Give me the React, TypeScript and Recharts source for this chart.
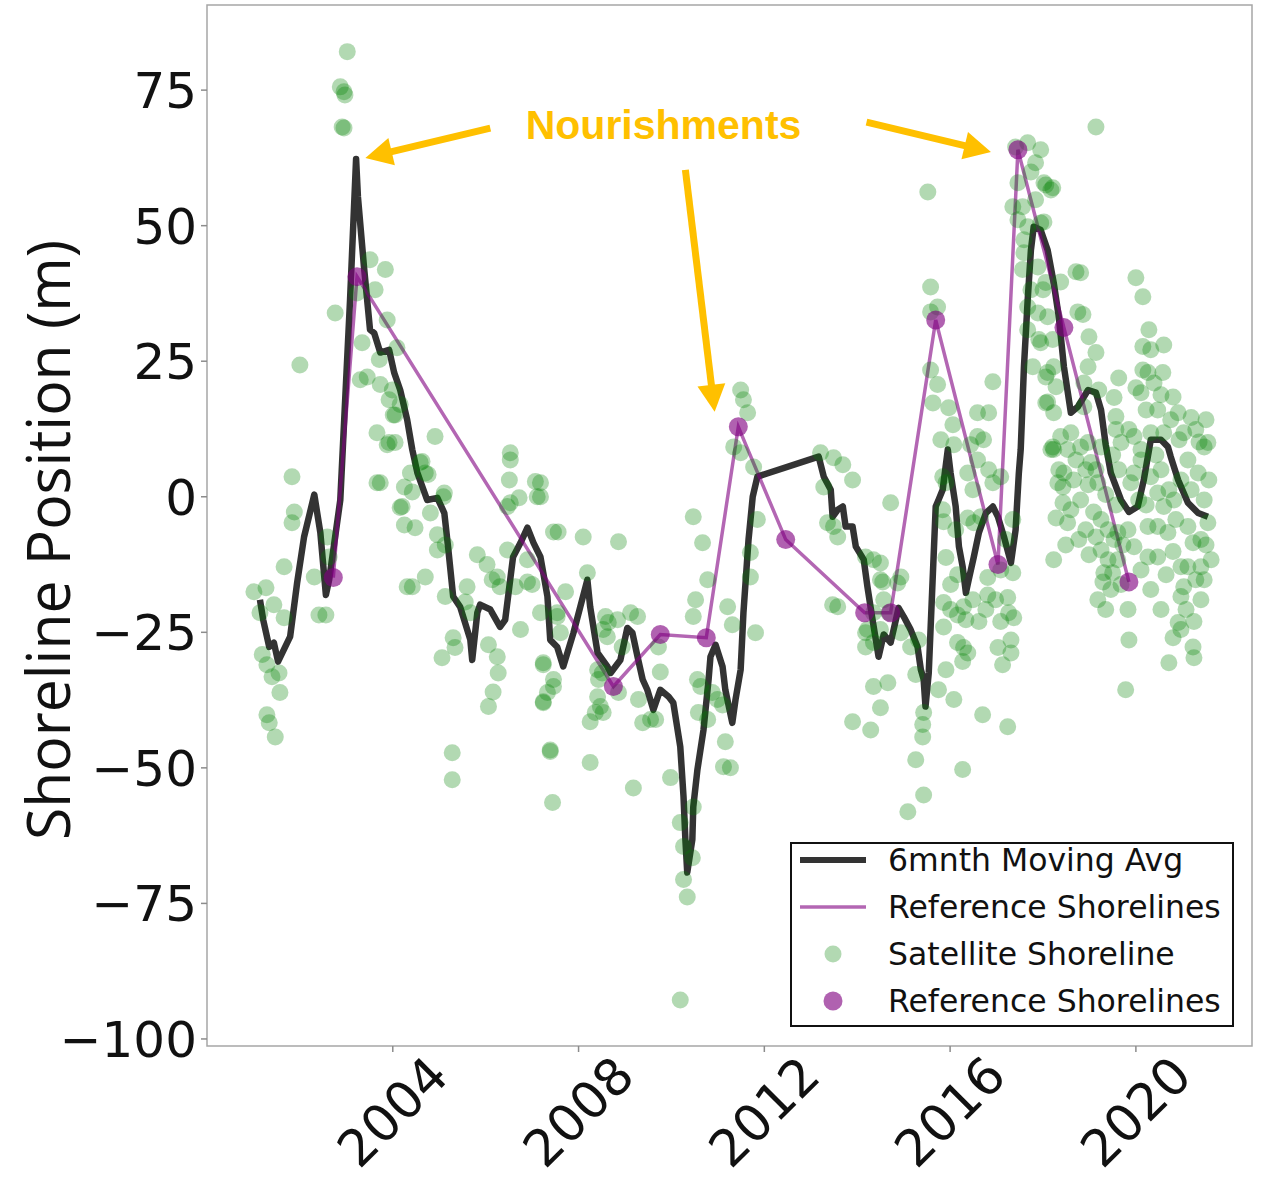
import React from 'react';
import {
  ComposedChart,
  XAxis,
  YAxis,
  Scatter,
  Line,
  Label,
  ReferenceArea,
  ReferenceLine,
  ReferenceDot,
} from 'recharts';

type Pt = [number, number];

// satellite shoreline positions: [decimal year, metres]
const satellite2001to2004: Pt[] = [
  [2001.83, 3.7], [2001.88, -2.8], [2001.83, -4.8], [2001.66, -12.9], [2001.01, -17.5], [2001.27, -16.8],
  [2001.44, -19.9], [2001.14, -21.4], [2001.66, -22.3], [2001.19, -29.1], [2001.29, -31.0], [2001.4, -33.2],
  [2001.55, -32.5], [2001.57, -36.1], [2001.29, -40.2], [2001.34, -41.7], [2001.47, -44.3], [2002.31, -14.8],
  [2002.41, -21.8], [2002.56, -21.8], [2002.59, -7.4], [2002.63, -11.1], [2002.0, 24.3], [2003.66, 2.6],
  [2004.25, 1.8], [2004.16, -2.0], [2004.25, -5.2], [2004.31, -16.6], [2003.88, 9.6],
  [2003.02, 82.1], [2002.87, 75.6], [2002.95, 74.7], [2002.97, 74.1], [2002.95, 68.0], [2002.91, 68.2],
  [2003.51, 43.7], [2003.84, 41.9], [2003.62, 38.2], [2003.23, 37.6], [2002.76, 33.9], [2003.88, 32.6],
  [2003.34, 28.4], [2003.71, 25.3], [2004.09, 27.5], [2003.3, 21.6], [2003.45, 22.1], [2003.73, 20.7],
  [2003.99, 19.7], [2003.92, 17.9], [2004.16, 17.0], [2004.05, 15.1], [2003.66, 11.8], [2003.92, 10.0],
  [2004.91, 11.1], [2004.38, 4.4], [2004.59, 6.3], [2004.7, 4.4], [2004.01, 15.1], [2004.05, 10.0],
  [2003.73, 2.6], [2004.63, 6.5], [2004.76, 4.1], [2004.42, 0.9], [2004.2, -1.8], [2004.81, -3.0],
  [2004.48, -5.7], [2004.96, -7.0], [2004.96, -9.8], [2004.42, -16.6], [2004.7, -14.8],
];

const satellite2005to2008: Pt[] = [
  [2005.11, 0.7], [2006.53, 8.1], [2006.53, 6.8], [2006.51, 3.1], [2007.07, 2.8], [2006.72, -0.2],
  [2007.11, 0.0], [2006.47, -1.8], [2005.09, 0.0], [2005.13, -8.9], [2005.13, -18.4], [2005.6, -16.6],
  [2005.82, -10.7], [2006.03, -12.5], [2006.25, -14.8], [2006.14, -15.3], [2006.31, -16.6], [2006.47, -9.8],
  [2006.53, -1.1], [2007.46, -6.5], [2006.9, -11.6], [2006.9, -15.7], [2007.0, -16.2], [2006.64, -16.6],
  [2005.67, -21.4], [2005.56, -19.4], [2005.3, -26.0], [2005.34, -27.8], [2005.06, -29.7], [2006.06, -27.3],
  [2006.25, -29.5], [2006.27, -32.5], [2006.16, -36.0], [2006.06, -38.7], [2006.75, -24.5], [2007.24, -31.0],
  [2007.33, -36.1], [2007.24, -37.8], [2007.46, -35.0], [2007.54, -21.4], [2005.28, -47.2], [2005.28, -52.2],
  [2007.39, -47.0], [2007.44, -56.4], [2007.18, 2.6], [2007.18, 0.0], [2007.56, -6.5], [2008.1, -7.4],
  [2008.86, -8.3], [2008.19, -14.0], [2007.72, -17.5], [2007.18, -21.4], [2007.54, -22.1], [2007.61, -25.1],
  [2007.24, -30.6], [2007.46, -33.7], [2007.24, -38.0], [2008.41, -31.9], [2008.51, -32.5], [2008.58, -22.1],
  [2008.64, -23.2], [2008.84, -22.7], [2008.62, -25.8], [2008.53, -24.5], [2008.94, -27.7], [2008.43, -33.7],
  [2008.41, -36.9], [2008.47, -38.7], [2008.36, -39.8], [2008.53, -39.8], [2008.25, -41.5], [2008.86, -36.1],
  [2007.39, -46.7], [2008.25, -49.0],
];

const satellite2009to2012: Pt[] = [
  [2009.12, -21.4], [2009.27, -22.1], [2009.29, -37.4], [2009.72, -27.7], [2009.76, -32.3], [2009.55, -41.1],
  [2009.66, -41.1], [2009.38, -41.7], [2009.18, -53.7], [2010.47, -3.7], [2010.67, -8.5], [2010.78, -15.3],
  [2010.52, -19.0], [2010.47, -22.1], [2011.21, -20.3], [2011.31, -23.6], [2011.81, -25.1], [2010.56, -33.7],
  [2010.63, -35.0], [2010.88, -36.1], [2010.99, -37.4], [2011.1, -38.4], [2010.58, -39.8], [2010.78, -41.1],
  [2011.16, -45.2], [2011.12, -49.8], [2011.27, -50.0], [2009.98, -51.8], [2010.19, -60.1], [2010.47, -57.2],
  [2010.26, -64.5], [2010.26, -70.6], [2010.34, -73.8], [2010.45, -66.6], [2010.19, -92.8], [2011.49, 19.7],
  [2011.55, 17.9], [2011.64, 15.5], [2011.34, 9.2], [2011.49, 8.1], [2011.77, 5.5], [2011.85, -4.2],
  [2011.7, -10.3], [2011.7, -14.8],
];

const satellite2013to2016: Pt[] = [
  [2013.21, 8.1], [2013.49, 7.2], [2013.69, 5.9], [2013.9, 3.1], [2013.28, 1.8], [2013.36, -4.8],
  [2013.49, -5.5], [2013.58, -7.4], [2014.72, -1.1], [2014.35, -11.6], [2014.5, -15.3], [2014.35, -21.4],
  [2013.58, -20.3], [2013.47, -19.9], [2014.68, -21.4], [2014.18, -25.1], [2014.35, -26.9], [2014.35, -35.0],
  [2014.66, -34.3], [2014.5, -38.9], [2013.9, -41.5], [2014.29, -43.0], [2014.18, -11.1], [2014.5, -12.2],
  [2014.55, -15.7], [2014.57, -19.0], [2014.94, -14.8], [2014.87, -15.9], [2014.22, -24.5], [2014.5, -24.5],
  [2014.18, -27.7], [2014.94, -25.1], [2015.15, -27.7], [2015.32, -26.4], [2015.26, -32.8], [2015.43, -39.8],
  [2015.41, -42.0], [2015.41, -44.3], [2015.26, -48.5], [2015.43, -55.0], [2015.09, -58.1], [2015.75, -35.6],
  [2015.91, -31.9], [2016.08, -37.4], [2015.8, 10.5], [2016.08, 9.6], [2015.84, 3.7], [2015.91, 2.6],
  [2015.84, -2.4], [2015.86, -4.6], [2015.91, -11.2], [2016.16, -14.4], [2015.86, -19.5], [2016.01, -20.8],
  [2016.16, -21.8], [2015.86, -24.0], [2016.29, -20.3], [2016.16, -26.9], [2016.29, -27.8], [2016.38, -28.8],
  [2016.27, -30.4], [2016.44, 9.6], [2016.38, 4.4], [2016.49, 1.3], [2016.59, 6.8], [2016.72, 10.5],
  [2016.83, 5.0], [2016.92, 2.6], [2016.38, -3.9], [2016.51, -4.8], [2016.66, -3.7], [2016.81, -14.9],
  [2016.81, -18.1], [2016.77, -20.8], [2016.62, -23.0], [2016.7, -40.2], [2016.27, -50.3], [2015.52, 56.2],
  [2015.58, 38.7], [2015.73, 35.0], [2015.58, 34.1], [2015.58, 23.4], [2015.73, 20.7], [2015.63, 17.3],
  [2015.97, 16.4], [2016.06, 13.3], [2016.92, 21.2], [2016.59, 15.5], [2016.83, 15.5], [2016.59, 11.1],
  [2016.01, -16.2], [2016.34, -22.7], [2016.49, -19.0], [2016.12, -6.1],
];

const satellite2017to2018: Pt[] = [
  [2017.09, 3.7], [2017.09, -23.0], [2017.24, -18.6], [2017.26, -21.4], [2017.37, -22.3], [2017.03, -27.8],
  [2017.31, -28.8], [2017.13, -31.0], [2017.35, -14.0], [2017.24, -42.4], [2018.23, 8.7], [2018.32, 2.6],
  [2018.28, -3.9], [2018.23, -11.6], [2017.41, 64.5], [2017.67, 65.3], [2017.95, 64.0], [2017.84, 61.6],
  [2017.46, 57.9], [2017.74, 59.9], [2018.02, 57.9], [2018.17, 56.6], [2017.35, 53.5], [2017.56, 53.5],
  [2017.84, 54.8], [2017.46, 51.1], [2017.67, 49.8], [2017.95, 50.5], [2017.59, 47.4], [2017.59, 45.0],
  [2017.56, 41.9], [2017.89, 42.4], [2017.74, 38.2], [2018.0, 38.2], [2017.67, 35.0], [2017.89, 33.9],
  [2018.1, 33.2], [2017.67, 30.8], [2017.91, 29.0], [2018.21, 29.0], [2017.78, 24.0], [2018.06, 22.1],
  [2018.23, 24.0], [2018.06, 17.3], [2018.23, 15.5], [2018.21, 9.2], [2018.06, 57.5], [2018.21, 57.0],
  [2018.02, 50.7], [2018.81, 41.3], [2018.71, 41.5], [2018.06, 39.5], [2018.38, 39.6], [2018.86, 33.6],
  [2018.75, 34.1], [2018.99, 29.5], [2017.95, 28.4], [2018.1, 22.9], [2018.97, 24.0], [2018.88, 21.0],
  [2018.28, 20.3], [2018.1, 17.5], [2018.88, 16.6], [2018.38, 11.1], [2018.6, 11.8], [2018.81, 9.2],
  [2018.17, 8.7], [2018.53, 8.7], [2018.97, 10.0], [2018.45, 4.4], [2018.66, 3.1], [2018.43, 1.8],
  [2018.97, 2.2], [2018.43, -1.1], [2018.53, -4.8], [2018.92, -6.1], [2017.09, -13.5], [2017.2, -7.9],
  [2017.35, -4.2], [2016.98, -19.0], [2017.31, -26.4], [2018.34, 5.0], [2018.71, 6.8], [2018.81, -0.6],
  [2018.6, -2.4], [2018.77, -7.9], [2018.99, -10.7], [2018.49, -8.9], [2018.92, 5.0],
];

const satellite2019to2021: Pt[] = [
  [2019.14, 68.2], [2020.0, 40.4], [2020.15, 36.9], [2020.28, 30.8], [2020.15, 27.7], [2020.6, 28.0],
  [2019.14, 26.6], [2019.63, 21.9], [2020.15, 23.4], [2020.26, 22.9], [2020.58, 22.9], [2020.0, 20.1],
  [2020.39, 21.0], [2019.2, 19.7], [2019.53, 18.3], [2020.11, 19.2], [2019.57, 14.8], [2020.8, 18.4],
  [2020.47, 16.0], [2020.91, 15.5], [2021.19, 14.6], [2021.03, 11.8], [2021.36, 10.1], [2021.55, 10.0],
  [2019.57, 12.4], [2019.68, 10.0], [2019.96, 11.1], [2020.11, 8.7], [2020.32, 11.8], [2020.6, 11.8],
  [2019.25, 9.2], [2019.03, 6.3], [2019.18, 2.6], [2019.09, -2.8], [2019.25, -4.2], [2019.14, -7.4],
  [2019.4, -6.1], [2019.25, -9.8], [2019.53, -7.9], [2019.4, -11.6], [2019.61, -11.6], [2019.31, -14.0],
  [2019.5, -14.0], [2019.29, -15.7], [2019.83, -20.8], [2019.85, -26.4], [2019.78, -35.6], [2019.61, -6.6],
  [2019.83, -6.1], [2019.96, -9.2], [2019.89, 2.6], [2019.96, 4.4], [2020.11, 6.8], [2020.32, 3.7],
  [2020.47, 0.7], [2020.26, -5.5], [2020.47, -5.5], [2020.69, -6.6], [2020.26, -11.1], [2020.47, -11.1],
  [2020.8, -10.1], [2020.6, -1.8], [2020.82, -0.6], [2020.97, 3.1], [2021.12, 6.8], [2021.47, 9.2],
  [2021.34, 4.4], [2021.47, -0.6], [2021.55, -4.8], [2021.4, -7.9], [2021.12, -5.5], [2021.23, -8.5],
  [2020.97, -12.9], [2021.4, -12.9], [2021.47, -15.3], [2021.12, -12.9], [2020.97, -18.4], [2021.03, -16.6],
  [2020.91, -23.2], [2021.25, -23.0], [2020.8, -26.0], [2021.23, -27.7], [2021.25, -29.7], [2020.71, -30.6],
  [2019.14, 5.0], [2019.35, 0.4], [2019.57, -1.5], [2019.46, -17.1], [2019.68, -16.2], [2019.18, -19.0],
  [2019.35, -20.8], [2019.63, 5.0], [2019.5, 7.7], [2019.72, -8.9], [2020.06, -0.6], [2020.22, -1.5],
  [2020.54, 5.0], [2020.71, 1.3], [2020.86, -4.2], [2021.19, 1.3], [2021.29, -15.3], [2020.65, -14.4],
  [2020.32, -17.1], [2020.11, -13.5], [2021.08, -20.8], [2021.4, -19.0], [2021.62, -11.6], [2021.57, 3.1],
  [2020.93, 10.5], [2021.29, 12.4], [2020.43, 7.7], [2020.75, 14.2], [2021.51, 14.2], [2020.32, 27.1],
  [2020.54, 18.8], [2019.85, 12.4], [2020.22, 16.0], [2020.97, -24.5], [2020.54, -20.8], [2021.51, -8.9],
];

// 6 month moving average
const movingAvgEarly: Pt[] = [
  [2001.14, -19.0], [2001.21, -22.7], [2001.34, -27.7], [2001.44, -26.9], [2001.53, -30.4], [2001.79, -25.8],
  [2001.94, -15.9], [2002.09, -7.4], [2002.31, 0.4], [2002.44, -6.6], [2002.56, -18.1], [2002.63, -15.3],
  [2002.87, -0.6], [2003.08, 36.3], [2003.21, 62.3], [2003.25, 55.3], [2003.38, 42.4], [2003.51, 30.8],
  [2003.6, 30.2], [2003.73, 26.6], [2003.92, 27.1], [2004.03, 22.9], [2004.16, 19.7], [2004.31, 14.2],
  [2004.42, 8.7], [2004.53, 4.4], [2004.74, -0.6], [2004.96, -0.2], [2005.11, -3.0], [2005.19, -9.2],
  [2005.3, -18.4], [2005.45, -20.3], [2005.67, -26.4], [2005.71, -30.1], [2005.82, -21.4], [2005.88, -19.9],
  [2006.1, -20.8], [2006.31, -24.0], [2006.42, -22.7], [2006.59, -11.1], [2006.75, -8.5], [2006.9, -5.7],
  [2007.03, -8.5], [2007.18, -11.1], [2007.33, -18.4], [2007.39, -26.4], [2007.54, -27.7], [2007.67, -31.3],
  [2007.89, -25.1], [2008.19, -15.3], [2008.25, -20.3], [2008.41, -28.8], [2008.62, -31.3], [2008.69, -32.5],
  [2008.9, -30.1],
];

const movingAvgMid: Pt[] = [
  [2009.05, -24.2], [2009.16, -25.1], [2009.27, -29.5], [2009.38, -33.7], [2009.48, -35.6], [2009.61, -39.3],
  [2009.76, -35.6], [2009.94, -36.9], [2010.04, -38.0], [2010.19, -46.1], [2010.26, -55.3], [2010.3, -63.2],
  [2010.34, -69.3], [2010.45, -63.2], [2010.47, -57.2], [2010.56, -50.3], [2010.69, -43.0], [2010.8, -33.7],
  [2010.84, -29.5], [2010.95, -27.3], [2011.1, -31.3], [2011.16, -35.6], [2011.31, -41.7], [2011.38, -37.4],
  [2011.49, -31.9], [2011.55, -21.4], [2011.66, -7.9], [2011.75, 0.0], [2011.85, 3.7], [2013.17, 7.4],
  [2013.28, 3.7], [2013.43, 1.3], [2013.47, -3.7], [2013.58, -2.4], [2013.69, -1.8], [2013.75, -5.5],
  [2013.9, -5.5], [2013.97, -9.2], [2014.14, -11.6], [2014.22, -16.6], [2014.33, -22.7], [2014.46, -29.5],
  [2014.57, -25.4], [2014.72, -26.9],
];

const movingAvgLate: Pt[] = [
  [2014.89, -20.5], [2015.0, -22.1], [2015.15, -24.5], [2015.3, -27.7], [2015.37, -31.9], [2015.43, -33.7],
  [2015.47, -38.7], [2015.54, -32.5], [2015.63, -14.0], [2015.69, -1.8], [2015.75, -0.6], [2015.84, 1.3],
  [2015.95, 8.7], [2016.01, 4.4], [2016.12, -1.8], [2016.19, -9.2], [2016.27, -12.9], [2016.34, -17.7],
  [2016.4, -15.3], [2016.51, -11.1], [2016.62, -6.6], [2016.77, -3.0], [2016.92, -1.8], [2017.03, -3.7],
  [2017.16, -7.4], [2017.31, -12.2], [2017.41, -6.1], [2017.48, 4.4], [2017.52, 8.7], [2017.59, 24.0],
  [2017.67, 36.3], [2017.74, 45.5], [2017.8, 49.8], [2017.95, 49.2], [2018.1, 45.5], [2018.23, 39.5],
  [2018.34, 33.2], [2018.45, 24.0], [2018.6, 15.5], [2018.75, 16.6], [2018.97, 19.7], [2019.14, 19.2],
  [2019.25, 16.0], [2019.35, 9.6], [2019.46, 4.4], [2019.68, -0.6], [2019.85, -2.8], [2020.04, -1.8],
  [2020.17, 3.1], [2020.32, 10.5], [2020.54, 10.5], [2020.69, 9.2], [2020.75, 7.4], [2020.91, 3.1],
  [2021.12, -1.1], [2021.34, -3.0], [2021.55, -3.7],
];

// surveyed reference shorelines
const referenceShorelines: Pt[] = [
  [2002.72, -14.9], [2003.23, 40.6], [2008.75, -35.0], [2009.76, -25.4], [2010.75, -26.0], [2011.44, 12.9],
  [2012.46, -7.9], [2014.16, -21.4], [2014.72, -21.4], [2015.69, 32.6], [2017.03, -12.5], [2017.46, 64.0],
  [2018.45, 31.2], [2019.85, -15.7],
];

const yearTicks = [2004, 2008, 2012, 2016, 2020];
const positionTicks = [-100, -75, -50, -25, 0, 25, 50, 75];
const yearDomain: [number, number] = [2000.0, 2022.5];
const positionDomain: [number, number] = [-101.3, 90.7];

// annotation: arrows from label towards nourishment peaks
const nourishmentLabel: Pt = [2009.83, 68.6];
const nourishmentArrows: { from: Pt; to: Pt }[] = [
  { from: [2006.1, 68.0], to: [2003.41, 62.5] },
  { from: [2010.3, 60.3], to: [2010.93, 15.7] },
  { from: [2014.2, 69.1], to: [2016.88, 63.6] },
];

const toRows = (pts: Pt[]) => pts.map(([year, value]) => ({ year, value }));

const satelliteRows = toRows([
  ...satellite2001to2004,
  ...satellite2005to2008,
  ...satellite2009to2012,
  ...satellite2013to2016,
  ...satellite2017to2018,
  ...satellite2019to2021,
]);
const movingAvgRows = toRows([...movingAvgEarly, ...movingAvgMid, ...movingAvgLate]);
const referenceRows = toRows(referenceShorelines);

const GOLD = '#FFC000';
const FONT = '"DejaVu Sans", sans-serif';

const fmtTick = (v: number) => (v < 0 ? `\u2212${Math.abs(v)}` : `${v}`);

const XTick = (props: any) => {
  const { x, y, payload } = props;
  return (
    <text
      transform={`translate(${x},${y + 58}) rotate(-45)`}
      textAnchor="middle"
      dominantBaseline="central"
      fontSize={51}
      fontFamily={FONT}
      fill="#111"
    >
      {payload.value}
    </text>
  );
};

const YTick = (props: any) => {
  const { x, y, payload } = props;
  return (
    <text x={x} y={y} dy="0.36em" textAnchor="end" fontSize={50} fontFamily={FONT} fill="#111">
      {fmtTick(payload.value)}
    </text>
  );
};

const YLabel = () => (
  <text
    x={70}
    y={540}
    transform="rotate(-90, 70, 540)"
    textAnchor="middle"
    fontSize={60}
    fontFamily='"Open Sans", sans-serif'
    textLength={600}
    lengthAdjust="spacingAndGlyphs"
    fill="#111"
  >
    Shoreline Position (m)
  </text>
);

const SatDot = (props: any) => (
  <circle cx={props.cx} cy={props.cy} r={8.5} fill="#008000" fillOpacity={0.3} />
);

const RefDot = (props: any) => (
  <circle key={`ref-${props.index}`} cx={props.cx} cy={props.cy} r={9.5} fill="#800080" fillOpacity={0.62} />
);

const Arrow = (props: any) => {
  const { x1, y1, x2, y2 } = props;
  const dx = x2 - x1;
  const dy = y2 - y1;
  const len = Math.hypot(dx, dy) || 1;
  const ux = dx / len;
  const uy = dy / len;
  const headLen = 27;
  const headW = 14;
  const bx = x2 - ux * headLen;
  const by = y2 - uy * headLen;
  return (
    <g>
      <line x1={x1} y1={y1} x2={bx + ux * 2} y2={by + uy * 2} stroke={GOLD} strokeWidth={7} />
      <polygon
        points={`${x2},${y2} ${bx - uy * headW},${by + ux * headW} ${bx + uy * headW},${by - ux * headW}`}
        fill={GOLD}
      />
    </g>
  );
};

const NourishText = (props: any) => (
  <text
    x={props.cx}
    y={props.cy}
    textAnchor="middle"
    dominantBaseline="central"
    fontSize={41}
    fontWeight="bold"
    fontFamily='"Liberation Sans", Arial, sans-serif'
    fill={GOLD}
  >
    Nourishments
  </text>
);

const legendItems = [
  { label: '6mnth Moving Avg', kind: 'line', color: '#000', opacity: 0.8, width: 6 },
  { label: 'Reference Shorelines', kind: 'line', color: '#800080', opacity: 0.6, width: 3.5 },
  { label: 'Satellite Shoreline', kind: 'dot', color: '#008000', opacity: 0.3, width: 8.5 },
  { label: 'Reference Shorelines', kind: 'dot', color: '#800080', opacity: 0.62, width: 9.5 },
];

function LegendBox() {
  return (
    <div
      style={{
        position: 'absolute',
        left: 790,
        top: 842,
        width: 440,
        height: 181,
        border: '2px solid #111',
        background: 'rgba(255,255,255,0.85)',
        fontFamily: FONT,
        fontSize: 31.5,
        color: '#111',
      }}
    >
      {legendItems.map((item, i) => (
        <div
          key={i}
          style={{
            position: 'absolute',
            left: 0,
            top: 16 + i * 47 - 22,
            height: 44,
            display: 'flex',
            alignItems: 'center',
          }}
        >
          <svg width={96} height={44} style={{ display: 'block' }}>
            {item.kind === 'line' ? (
              <line x1={8} x2={74} y1={22} y2={22} stroke={item.color} strokeOpacity={item.opacity} strokeWidth={item.width} />
            ) : (
              <circle cx={41} cy={22} r={item.width} fill={item.color} fillOpacity={item.opacity} />
            )}
          </svg>
          <span style={{ whiteSpace: 'nowrap' }}>{item.label}</span>
        </div>
      ))}
    </div>
  );
}

export default function App() {
  return (
    <div style={{ position: 'absolute', left: 0, top: 0, width: 1261, height: 1186, background: '#fff', fontFamily: FONT }}>
      <ComposedChart width={1261} height={1186} margin={{ top: 5, right: 9, bottom: 0, left: 0 }}>
        <XAxis
          dataKey="year"
          type="number"
          domain={yearDomain}
          ticks={yearTicks}
          allowDataOverflow
          interval={0}
          height={140}
          axisLine={false}
          tickSize={6}
          tickLine={{ stroke: '#8c8c8c', strokeWidth: 1.5 }}
          tick={<XTick />}
        />
        <YAxis
          dataKey="value"
          type="number"
          domain={positionDomain}
          ticks={positionTicks}
          allowDataOverflow
          interval={0}
          width={207}
          axisLine={false}
          tickSize={6}
          tickMargin={4}
          tickLine={{ stroke: '#8c8c8c', strokeWidth: 1.5 }}
          tick={<YTick />}
        >
          <Label content={<YLabel />} />
        </YAxis>
        <ReferenceArea
          x1={yearDomain[0]}
          x2={yearDomain[1]}
          y1={positionDomain[0]}
          y2={positionDomain[1]}
          fill="none"
          stroke="#a6a6a6"
          strokeWidth={1.5}
          ifOverflow="visible"
        />
        <Scatter data={satelliteRows} dataKey="value" shape={<SatDot />} isAnimationActive={false} />
        <Line
          data={movingAvgRows}
          dataKey="value"
          type="linear"
          stroke="#000"
          strokeOpacity={0.8}
          strokeWidth={6.5}
          strokeLinejoin="round"
          dot={false}
          activeDot={false}
          isAnimationActive={false}
        />
        <Line
          data={referenceRows}
          dataKey="value"
          type="linear"
          stroke="#800080"
          strokeOpacity={0.6}
          strokeWidth={3.5}
          dot={<RefDot />}
          activeDot={false}
          isAnimationActive={false}
        />
        {nourishmentArrows.map((a, i) => (
          <ReferenceLine
            key={i}
            segment={[
              { x: a.from[0], y: a.from[1] },
              { x: a.to[0], y: a.to[1] },
            ]}
            ifOverflow="visible"
            shape={<Arrow />}
          />
        ))}
        <ReferenceDot x={nourishmentLabel[0]} y={nourishmentLabel[1]} r={0} ifOverflow="visible" shape={<NourishText />} />
      </ComposedChart>
      <LegendBox />
    </div>
  );
}
